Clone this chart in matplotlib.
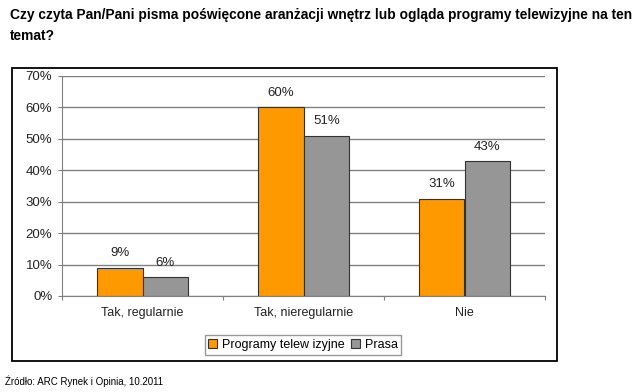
import matplotlib.pyplot as plt
import numpy as np
from matplotlib.patches import Rectangle

plt.rcParams['font.family'] = ['Liberation Sans', 'DejaVu Sans']

categories = ["Tak, regularnie", "Tak, nieregularnie", "Nie"]
tv = [9, 60, 31]
press = [6, 51, 43]
series_names = ["Programy telew izyjne", "Prasa"]
yticks = [0, 10, 20, 30, 40, 50, 60, 70]

title1 = "Czy czyta Pan/Pani pisma poświęcone aranżacji wnętrz lub ogląda programy telewizyjne na ten"
title2 = "temat?"
source = "Źródło: ARC Rynek i Opinia, 10.2011"

W, H = 640, 392
fig = plt.figure(figsize=(W / 100, H / 100), dpi=100)

# outer frame around chart
fig.patches.append(Rectangle((12 / W, 1 - 361 / H), 545 / W, 293 / H,
                             transform=fig.transFigure, fill=False,
                             edgecolor='black', linewidth=1.3))

ax = fig.add_axes([62 / W, 1 - 296 / H, 483 / W, 220 / H])

x = np.arange(len(categories))
bw = 0.285
b1 = ax.bar(x - bw / 2, tv, bw, color='#FF9900', edgecolor='#333333',
            linewidth=0.8, label=series_names[0], zorder=3)
b2 = ax.bar(x + bw / 2, press, bw, color='#969696', edgecolor='#333333',
            linewidth=0.8, label=series_names[1], zorder=3)

for bars, vals in ((b1, tv), (b2, press)):
    for b, v in zip(bars, vals):
        ax.annotate(f"{v}%", (b.get_x() + b.get_width() / 2, v),
                    xytext=(0, 6), textcoords='offset points',
                    ha='center', va='bottom', fontsize=9.5, color='#222222')

ax.set_xlim(-0.5, len(categories) - 0.5)
ax.set_ylim(0, 70)
ax.set_yticks(yticks)
ax.set_yticklabels([f"{t}%" for t in yticks], fontsize=9.5, color='#222222')
ax.yaxis.grid(True, color='#808080', linewidth=1, zorder=0)

ax.set_xticks(np.arange(-0.5, len(categories), 1))
ax.set_xticklabels([])
ax.set_xticks(x, minor=True)
ax.set_xticklabels(categories, minor=True, fontsize=9, color='#222222')
ax.tick_params(axis='x', which='minor', length=0, pad=8)
ax.tick_params(axis='x', which='major', length=3, color='#808080')
ax.tick_params(axis='y', length=3, color='#808080', pad=4)

for s in ('top', 'right'):
    ax.spines[s].set_visible(False)
for s in ('left', 'bottom'):
    ax.spines[s].set_color('#808080')

ax.legend(loc='center', bbox_to_anchor=(303 / W, 1 - 345 / H),
          bbox_transform=fig.transFigure, ncol=2, fontsize=9,
          frameon=True, fancybox=False, edgecolor='#808080',
          handlelength=0.7, handleheight=0.7, handletextpad=0.4,
          columnspacing=0.5, borderpad=0.3)

fig.text(10 / W, 1 - 19 / H, title1, ha='left', va='baseline', fontsize=9.9,
         fontweight='bold')
fig.text(10 / W, 1 - 40 / H, title2, ha='left', va='baseline', fontsize=9.9,
         fontweight='bold')
fig.text(5 / W, 1 - 381 / H, source, ha='left', va='center', fontsize=7)

fig.savefig("out.png", dpi=100)
